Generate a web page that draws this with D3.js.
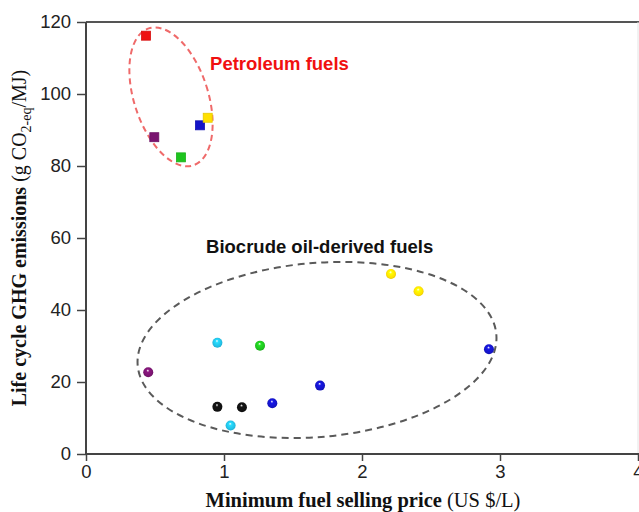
<!DOCTYPE html>
<html>
<head>
<meta charset="utf-8">
<script src="https://cdn.jsdelivr.net/npm/d3@7"></script>
<style>
  body { margin: 0; background: #fff; }
  svg { display: block; }
</style>
</head>
<body>
<div id="chart"></div>
<script>
const width = 639;
const height = 512;

// petroleum fuels (squares)
const petroPrice = [0.435, 0.495, 0.688, 0.826, 0.882];
const petroGHG = [116.2, 88.0, 82.4, 91.3, 93.4];
const petroColor = ["#ee1111", "#7a1470", "#1ec41e", "#1414c8", "#ffe000"];

// biocrude oil-derived fuels (spheres)
const bioPrice = [2.21, 2.41, 0.952, 1.261, 2.92, 0.451, 1.696, 1.35, 0.952, 1.13, 1.048];
const bioGHG = [50.0, 45.2, 30.9, 30.1, 29.1, 22.7, 19.0, 14.1, 13.1, 13.0, 7.9];
const bioColor = ["#ffe000", "#ffe000", "#22c0e6", "#1ec41e", "#1414c8", "#7a1470",
  "#1414c8", "#1414c8", "#111111", "#111111", "#22c0e6"];

const xTicks = [0, 1, 2, 3, 4];
const yTicks = [0, 20, 40, 60, 80, 100, 120];

const margin = { left: 86, right: 1, top: 22, bottom: 58 };

const x = d3.scaleLinear().domain([0, 4]).range([margin.left, width - margin.right]);
const y = d3.scaleLinear().domain([0, 120]).range([height - margin.bottom, margin.top]);

const svg = d3.select("#chart").append("svg")
  .attr("width", width)
  .attr("height", height);

const defs = svg.append("defs");
const uniqueColors = Array.from(new Set(bioColor));
uniqueColors.forEach((c, i) => {
  const g = defs.append("radialGradient")
    .attr("id", "ball" + i)
    .attr("cx", "0.5").attr("cy", "0.5").attr("r", "0.6")
    .attr("fx", "0.45").attr("fy", "0.3");
  g.append("stop").attr("offset", "0%").attr("stop-color", "#ffffff");
  g.append("stop").attr("offset", "25%").attr("stop-color", d3.color(c).brighter(0.4));
  g.append("stop").attr("offset", "70%").attr("stop-color", c);
  g.append("stop").attr("offset", "100%").attr("stop-color", d3.color(c).darker(0.6));
});

// frame: top and right lines
svg.append("line")
  .attr("x1", x(0)).attr("x2", width)
  .attr("y1", y(120)).attr("y2", y(120))
  .attr("stroke", "#555").attr("stroke-width", 2);
svg.append("line")
  .attr("x1", width - 1).attr("x2", width - 1)
  .attr("y1", y(120)).attr("y2", y(0))
  .attr("stroke", "#e4e4e4").attr("stroke-width", 1);

// axes
const xAxis = svg.append("g")
  .attr("transform", `translate(0,${y(0)})`)
  .call(d3.axisBottom(x).tickValues(xTicks).tickFormat(d3.format("d")).tickSize(7).tickPadding(4));
const yAxis = svg.append("g")
  .attr("transform", `translate(${x(0)},0)`)
  .call(d3.axisLeft(y).tickValues(yTicks).tickSize(9).tickPadding(6));

[xAxis, yAxis].forEach(a => {
  a.select(".domain").attr("stroke", "#444").attr("stroke-width", 2);
  a.selectAll(".tick line").attr("stroke", "#444").attr("stroke-width", 1.5);
  a.selectAll(".tick text")
    .attr("fill", "#222")
    .style("font-family", "'Liberation Sans', Arial, sans-serif")
    .style("font-size", "18.5px");
});
xAxis.select(".domain").attr("d", `M${x(0)},0H${width}`);
yAxis.select(".domain").attr("d", `M0,${y(0)}V${y(120)}`);

// group ellipses
function ellipse(cx, cy, rx, ry, angle, color, dash) {
  svg.append("ellipse")
    .attr("transform", `translate(${x(cx)},${y(cy)}) rotate(${angle})`)
    .attr("rx", rx).attr("ry", ry)
    .attr("fill", "none")
    .attr("stroke", color)
    .attr("stroke-width", 2)
    .attr("stroke-dasharray", dash);
}
ellipse(0.616, 99.2, 37, 72, -18, "#ef6a6a", "6,4");
ellipse(1.674, 28.9, 180, 87, -5, "#5a5a5a", "7,5");

// labels of groups
svg.append("text")
  .attr("x", x(0.899)).attr("y", y(106.7))
  .attr("fill", "#f01010")
  .style("font-family", "'Liberation Sans', Arial, sans-serif")
  .style("font-weight", "bold")
  .style("font-size", "18.5px")
  .text("Petroleum fuels");
svg.append("text")
  .attr("x", x(0.87)).attr("y", y(55.9))
  .attr("fill", "#111")
  .style("font-family", "'Liberation Sans', Arial, sans-serif")
  .style("font-weight", "bold")
  .style("font-size", "18.5px")
  .text("Biocrude oil-derived fuels");

// squares
const sq = 9;
svg.selectAll("rect.petro")
  .data(petroPrice)
  .join("rect")
  .attr("class", "petro")
  .attr("x", d => x(d) - sq / 2)
  .attr("y", (d, i) => y(petroGHG[i]) - sq / 2)
  .attr("width", sq).attr("height", sq)
  .attr("fill", (d, i) => petroColor[i])
  .attr("stroke", (d, i) => d3.color(petroColor[i]).darker(0.3))
  .attr("stroke-width", 0.8);

// spheres
svg.selectAll("circle.bio")
  .data(bioPrice)
  .join("circle")
  .attr("class", "bio")
  .attr("cx", d => x(d))
  .attr("cy", (d, i) => y(bioGHG[i]))
  .attr("r", 5)
  .attr("fill", (d, i) => `url(#ball${uniqueColors.indexOf(bioColor[i])})`);

// axis titles
const xt = svg.append("text")
  .attr("x", (x(0) + x(4)) / 2 + 1)
  .attr("y", 507)
  .attr("text-anchor", "middle")
  .attr("fill", "#111")
  .style("font-family", "'Liberation Serif', 'Times New Roman', serif")
  .style("font-size", "20.5px");
xt.append("tspan").style("font-weight", "bold").text("Minimum fuel selling price");
xt.append("tspan").text(" (US $/L)");

const yt = svg.append("text")
  .attr("transform", `translate(26,${(y(0) + y(120)) / 2}) rotate(-90)`)
  .attr("text-anchor", "middle")
  .attr("fill", "#111")
  .style("font-family", "'Liberation Serif', 'Times New Roman', serif")
  .style("font-size", "20px");
yt.append("tspan").style("font-weight", "bold").text("Life cycle GHG emissions");
yt.append("tspan").text(" (g CO");
yt.append("tspan").attr("dy", 5).style("font-size", "14px").text("2-eq");
yt.append("tspan").attr("dy", -5).text("/MJ)");
</script>
</body>
</html>
